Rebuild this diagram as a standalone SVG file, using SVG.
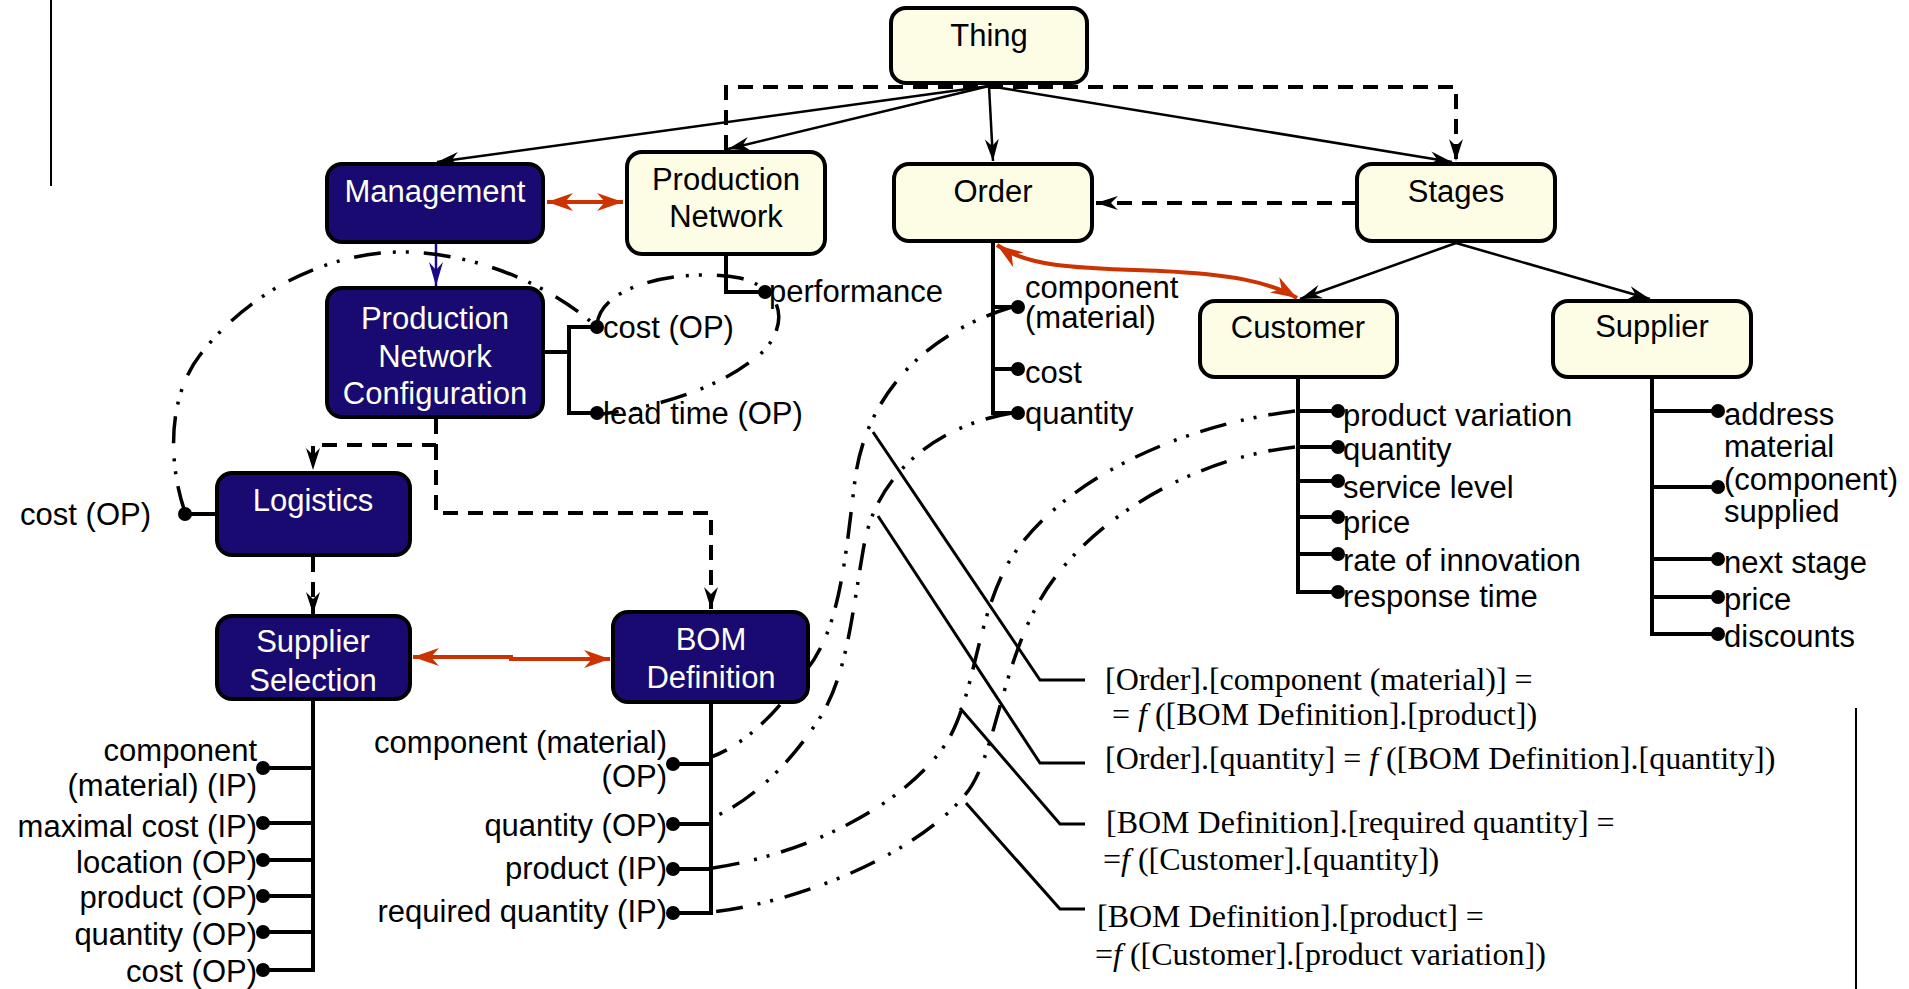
<svg xmlns="http://www.w3.org/2000/svg" width="1909" height="989" viewBox="0 0 1909 989">
<defs>
<style>
.by{fill:#fdfde6;stroke:#000;stroke-width:4}
.bn{fill:#190a72;stroke:#000;stroke-width:4}
.t{font-family:"Liberation Sans",Arial,sans-serif;font-size:31px;fill:#000}
.c{text-anchor:middle}
.e{text-anchor:end}
.w{fill:#fffff0}
.f{font-family:"Liberation Serif","Times New Roman",serif;font-size:32px;fill:#000}
.it{font-style:italic}
.sl{fill:none;stroke:#000;stroke-width:2.5}
.dl{fill:none;stroke:#000;stroke-width:4;stroke-dasharray:15 10}
.rl{fill:none;stroke:#cc3300;stroke-width:4}
.nl{fill:none;stroke:#1a0a8a;stroke-width:2.5}
.tr{fill:none;stroke:#000;stroke-width:4}
.dd{fill:none;stroke:#000;stroke-width:3.5;stroke-dasharray:27 12 3 10 3 15}
.ld{fill:none;stroke:#000;stroke-width:3}
.fr{fill:none;stroke:#000;stroke-width:2}
circle{fill:#000}
</style>
<marker id="ab" viewBox="-24 -9 26 18" refX="0" refY="0" markerWidth="26" markerHeight="18" markerUnits="userSpaceOnUse" orient="auto"><path d="M0,0 L-22,-7 L-15,0 L-22,7 Z" fill="#000"/></marker>
<marker id="an" viewBox="-24 -9 26 18" refX="0" refY="0" markerWidth="26" markerHeight="18" markerUnits="userSpaceOnUse" orient="auto"><path d="M0,0 L-24,-7 L-16,0 L-24,7 Z" fill="#1a0a8a"/></marker>
<marker id="ar" viewBox="-28 -11 30 22" refX="0" refY="0" markerWidth="30" markerHeight="22" markerUnits="userSpaceOnUse" orient="auto-start-reverse"><path d="M0,0 L-26,-9 L-18,0 L-26,9 Z" fill="#cc3300"/></marker>
</defs>
<rect width="1909" height="989" fill="#fff"/>
<g id="frame">
<line class="fr" x1="51" y1="0" x2="51" y2="186"/>
<line class="fr" x1="1856" y1="708" x2="1856" y2="989"/>
</g>
<g id="connectors">
<path class="sl" d="M989,86 L437,162" marker-end="url(#ab)"/>
<path class="sl" d="M989,86 L728,149" marker-end="url(#ab)"/>
<path class="sl" d="M989,86 L993,161" marker-end="url(#ab)"/>
<path class="sl" d="M989,86 L1452,162" marker-end="url(#ab)"/>
<path class="sl" d="M1456,243 L1300,299" marker-end="url(#ab)"/>
<path class="sl" d="M1456,243 L1650,299" marker-end="url(#ab)"/>
<path class="dl" d="M726,150 L726,87 L1456,87 L1456,161" marker-end="url(#ab)"/>
<path class="dl" d="M1357,203 L1096,203" marker-end="url(#ab)"/>
<path class="dl" d="M436,419 L436,445 L313,445 L313,470" marker-end="url(#ab)"/>
<path class="dl" d="M436,445 L436,513 L711,513 L711,609" marker-end="url(#ab)"/>
<path class="dl" d="M313,557 L313,614" marker-end="url(#ab)"/>
<path class="nl" d="M436,244 L436,286" marker-end="url(#an)"/>
<path class="rl" d="M547,202 L623,202" marker-start="url(#ar)" marker-end="url(#ar)"/>
<path class="rl" d="M413,657 L511,657 L511,659 L610,659" marker-start="url(#ar)" marker-end="url(#ar)"/>
<path class="rl" d="M997,245 C1030,268 1080,268 1160,271 C1230,274 1270,282 1297,298" marker-start="url(#ar)" marker-end="url(#ar)"/>
<path class="dd" d="M185,512 C170,470 165,400 200,355 C250,290 330,250 410,252 C480,255 550,285 597,327"/>
<path class="dd" d="M597,325 C600,282 690,268 740,278 C795,292 785,340 750,362 C710,392 650,408 602,414"/>
<path class="dd" d="M1012,307 C920,335 865,400 855,480 C845,560 840,630 805,672 C780,710 745,745 711,757"/>
<path class="dd" d="M1012,413 C940,425 880,470 865,540 C852,610 848,680 815,725 C785,770 745,805 711,818"/>
<path class="dd" d="M1295,411 C1180,425 1060,480 1010,560 C975,620 975,700 945,745 C900,810 800,855 713,868"/>
<path class="dd" d="M1295,447 C1180,460 1080,530 1040,600 C1000,670 995,760 965,795 C920,850 810,900 713,912"/>
<path class="ld" d="M873,432 L1040,680 L1085,680"/>
<path class="ld" d="M878,516 L1040,763 L1085,763"/>
<path class="ld" d="M960,708 L1060,824 L1085,824"/>
<path class="ld" d="M966,803 L1060,909 L1085,909"/>
</g>
<g id="thing">
<rect class="by" x="891" y="8" width="196" height="75" rx="15"/>
<text class="t c" x="989" y="46">Thing</text>
</g>
<g id="management">
<rect class="bn" x="327" y="164" width="216" height="78" rx="15"/>
<text class="t c w" x="435" y="202">Management</text>
</g>
<g id="production-network">
<rect class="by" x="627" y="152" width="198" height="102" rx="15"/>
<text class="t c" x="726" y="190">Production</text>
<text class="t c" x="726" y="227">Network</text>
<path class="tr" d="M726,256 L726,292 L765,292"/>
<circle cx="765" cy="292" r="7"/>
<text class="t" x="769" y="302">performance</text>
</g>
<g id="order">
<rect class="by" x="894" y="164" width="198" height="77" rx="15"/>
<text class="t c" x="993" y="202">Order</text>
<path class="tr" d="M993,243 L993,413 L1018,413 M993,307 L1018,307 M993,369 L1018,369"/>
<circle cx="1018" cy="307" r="7"/>
<circle cx="1018" cy="369" r="7"/>
<circle cx="1018" cy="413" r="7"/>
<text class="t" x="1025" y="298">component</text>
<text class="t" x="1025" y="328">(material)</text>
<text class="t" x="1025" y="383">cost</text>
<text class="t" x="1025" y="424">quantity</text>
</g>
<g id="stages">
<rect class="by" x="1357" y="164" width="198" height="77" rx="15"/>
<text class="t c" x="1456" y="202">Stages</text>
</g>
<g id="customer">
<rect class="by" x="1200" y="301" width="197" height="76" rx="15"/>
<text class="t c" x="1298" y="338">Customer</text>
<path class="tr" d="M1298,379 L1298,592 L1338,592 M1298,411 L1338,411 M1298,447 L1338,447 M1298,481 L1338,481 M1298,517 L1338,517 M1298,554 L1338,554"/>
<circle cx="1338" cy="411" r="7"/>
<circle cx="1338" cy="447" r="7"/>
<circle cx="1338" cy="481" r="7"/>
<circle cx="1338" cy="517" r="7"/>
<circle cx="1338" cy="554" r="7"/>
<circle cx="1338" cy="592" r="7"/>
<text class="t" x="1343" y="426">product variation</text>
<text class="t" x="1343" y="460">quantity</text>
<text class="t" x="1343" y="498">service level</text>
<text class="t" x="1343" y="533">price</text>
<text class="t" x="1343" y="571">rate of innovation</text>
<text class="t" x="1343" y="607">response time</text>
</g>
<g id="supplier">
<rect class="by" x="1553" y="301" width="198" height="76" rx="15"/>
<text class="t c" x="1652" y="337">Supplier</text>
<path class="tr" d="M1652,379 L1652,634 L1718,634 M1652,411 L1718,411 M1652,487 L1718,487 M1652,559 L1718,559 M1652,597 L1718,597"/>
<circle cx="1718" cy="411" r="7"/>
<circle cx="1718" cy="487" r="7"/>
<circle cx="1718" cy="559" r="7"/>
<circle cx="1718" cy="597" r="7"/>
<circle cx="1718" cy="634" r="7"/>
<text class="t" x="1724" y="425">address</text>
<text class="t" x="1724" y="457">material</text>
<text class="t" x="1724" y="490">(component)</text>
<text class="t" x="1724" y="522">supplied</text>
<text class="t" x="1724" y="573">next stage</text>
<text class="t" x="1724" y="610">price</text>
<text class="t" x="1724" y="647">discounts</text>
</g>
<g id="production-network-configuration">
<rect class="bn" x="327" y="288" width="216" height="129" rx="15"/>
<text class="t c w" x="435" y="329">Production</text>
<text class="t c w" x="435" y="367">Network</text>
<text class="t c w" x="435" y="404">Configuration</text>
<path class="tr" d="M545,352 L569,352 M597,327 L569,327 L569,413 L597,413"/>
<circle cx="597" cy="327" r="7"/>
<circle cx="597" cy="413" r="7"/>
<text class="t" x="603" y="338">cost (OP)</text>
<text class="t" x="603" y="424">lead time (OP)</text>
</g>
<g id="logistics">
<rect class="bn" x="217" y="473" width="193" height="82" rx="15"/>
<text class="t c w" x="313" y="511">Logistics</text>
<path class="tr" d="M185,514 L215,514"/>
<circle cx="185" cy="514" r="7"/>
<text class="t e" x="151" y="525">cost (OP)</text>
</g>
<g id="supplier-selection">
<rect class="bn" x="217" y="616" width="193" height="83" rx="15"/>
<text class="t c w" x="313" y="652">Supplier</text>
<text class="t c w" x="313" y="691">Selection</text>
<path class="tr" d="M313,701 L313,970 L263,970 M313,768 L263,768 M313,823 L263,823 M313,860 L263,860 M313,896 L263,896 M313,932 L263,932"/>
<circle cx="263" cy="768" r="7"/>
<circle cx="263" cy="823" r="7"/>
<circle cx="263" cy="860" r="7"/>
<circle cx="263" cy="896" r="7"/>
<circle cx="263" cy="932" r="7"/>
<circle cx="263" cy="970" r="7"/>
<text class="t e" x="257" y="761">component</text>
<text class="t e" x="257" y="796">(material) (IP)</text>
<text class="t e" x="257" y="837">maximal cost (IP)</text>
<text class="t e" x="257" y="873">location (OP)</text>
<text class="t e" x="257" y="908">product (OP)</text>
<text class="t e" x="257" y="945">quantity (OP)</text>
<text class="t e" x="257" y="982">cost (OP)</text>
</g>
<g id="bom-definition">
<rect class="bn" x="613" y="612" width="195" height="90" rx="15"/>
<text class="t c w" x="711" y="650">BOM</text>
<text class="t c w" x="711" y="688">Definition</text>
<path class="tr" d="M711,704 L711,913 L673,913 M711,764 L673,764 M711,824 L673,824 M711,869 L673,869"/>
<circle cx="673" cy="764" r="7"/>
<circle cx="673" cy="824" r="7"/>
<circle cx="673" cy="869" r="7"/>
<circle cx="673" cy="913" r="7"/>
<text class="t e" x="667" y="753">component (material)</text>
<text class="t e" x="667" y="787">(OP)</text>
<text class="t e" x="667" y="836">quantity (OP)</text>
<text class="t e" x="667" y="879">product (IP)</text>
<text class="t e" x="667" y="922">required quantity (IP)</text>
</g>
<g id="formulas">
<text class="f" x="1105" y="690">[Order].[component (material)] =</text>
<text class="f" x="1112" y="725">= <tspan class="it">f</tspan> ([BOM Definition].[product])</text>
<text class="f" x="1105" y="769">[Order].[quantity] = <tspan class="it">f</tspan> ([BOM Definition].[quantity])</text>
<text class="f" x="1106" y="833">[BOM Definition].[required quantity] =</text>
<text class="f" x="1103" y="870">=<tspan class="it">f</tspan> ([Customer].[quantity])</text>
<text class="f" x="1097" y="927">[BOM Definition].[product] =</text>
<text class="f" x="1095" y="965">=<tspan class="it">f</tspan> ([Customer].[product variation])</text>
</g>
</svg>
